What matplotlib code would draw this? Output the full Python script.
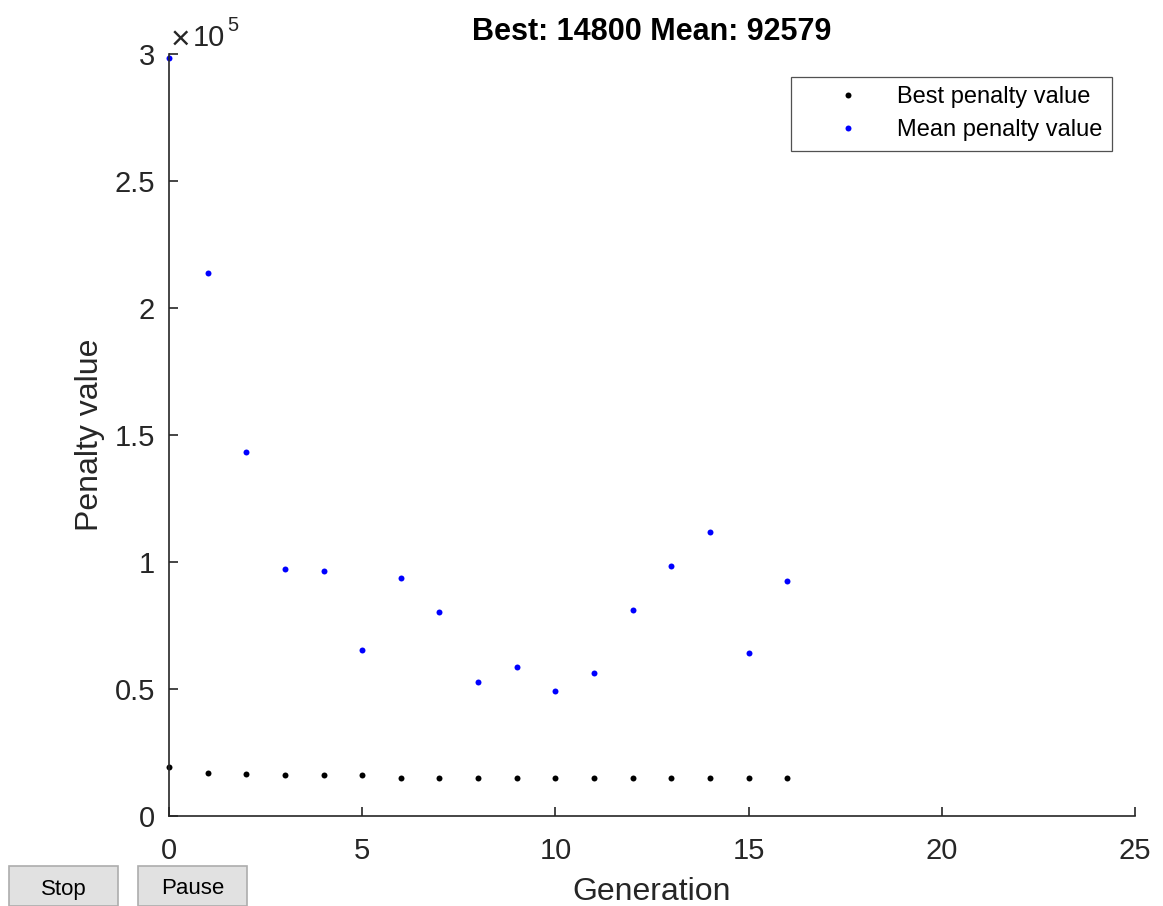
import matplotlib
matplotlib.use("Agg")
import matplotlib.pyplot as plt
from matplotlib.ticker import FuncFormatter, MultipleLocator
from matplotlib.patches import Rectangle

plt.rcParams['font.family'] = ['Liberation Sans', 'DejaVu Sans']

generations = list(range(17))
best_penalty = [19100, 16900, 16700, 16100, 16100, 16100, 14800, 14800, 14800,
                14800, 14800, 14800, 14800, 14800, 14800, 14800, 14800]
mean_penalty = [298500, 213900, 143300, 97100, 96300, 65200, 93600, 80500, 52900,
                58600, 49100, 56400, 81100, 98600, 111800, 64300, 92579]
title_text = "Best: 14800 Mean: 92579"
x_label = "Generation"
y_label = "Penalty value"
legend_labels = ["Best penalty value", "Mean penalty value"]
button_labels = ["Stop", "Pause"]

W, H = 1163, 906
fig = plt.figure(figsize=(W / 100, H / 100), dpi=100)
ax = fig.add_axes([169 / W, 1 - 816 / H, (1135 - 169) / W, (816 - 54) / H])

axc = '#262626'
ax.plot(generations, best_penalty, linestyle='none', marker='o', markersize=4.3,
        markeredgewidth=0, color='black', label=legend_labels[0], clip_on=False)
ax.plot(generations, mean_penalty, linestyle='none', marker='o', markersize=4.3,
        markeredgewidth=0, color='#0000ff', label=legend_labels[1], clip_on=False)

ax.set_xlim(0, 25)
ax.set_ylim(0, 300000)
ax.xaxis.set_major_locator(MultipleLocator(5))
ax.yaxis.set_major_locator(MultipleLocator(50000))
ax.yaxis.set_major_formatter(FuncFormatter(lambda v, p: f"{v / 1e5:g}"))

for s in ['top', 'right']:
    ax.spines[s].set_visible(False)
for s in ['left', 'bottom']:
    ax.spines[s].set_linewidth(1.2)
    ax.spines[s].set_color(axc)

ax.tick_params(direction='in', length=6.5, width=1.2, color=axc,
               labelsize=21, labelcolor=axc)
ax.tick_params(axis='y', pad=10)
ax.tick_params(axis='x', pad=15)

ax.set_title(title_text, fontsize=22, fontweight='bold', pad=10, color='black')
ax.set_xlabel(x_label, fontsize=23, color=axc, labelpad=9)
ax.set_ylabel(y_label, fontsize=23, color=axc, labelpad=7)

# exponent label
fig.text(171 / W, 1 - 49 / H, "\u00d7", fontsize=24, color=axc,
         ha='left', va='baseline')
fig.text(193 / W, 1 - 46 / H, "10", fontsize=21, color=axc,
         ha='left', va='baseline')
fig.text(227 / W, 1 - 31 / H, "5", fontsize=14.5, color=axc,
         ha='left', va='baseline')

leg = ax.legend(loc='upper right', bbox_to_anchor=(1112 / W, 1 - 77 / H),
                bbox_transform=fig.transFigure, fontsize=17, frameon=True,
                fancybox=False, edgecolor=axc, borderpad=0.4, handlelength=4.0,
                handletextpad=0.1, borderaxespad=0, labelspacing=0.45,
                numpoints=1, markerscale=1.0)
leg.get_frame().set_linewidth(0.9)

# Buttons
for (x0, x1), txt in zip([(9, 118), (138, 247)], button_labels):
    rect = Rectangle((x0 / W, 0), (x1 - x0) / W, (906 - 866) / H,
                     transform=fig.transFigure, facecolor='#e1e1e1',
                     edgecolor='#adadad', linewidth=1.2)
    fig.patches.append(rect)
    fig.text((x0 + x1) / 2 / W, 1 - 889 / H, txt, fontsize=16, ha='center',
             va='center', color='black')

fig.savefig("out.png", dpi=100)
